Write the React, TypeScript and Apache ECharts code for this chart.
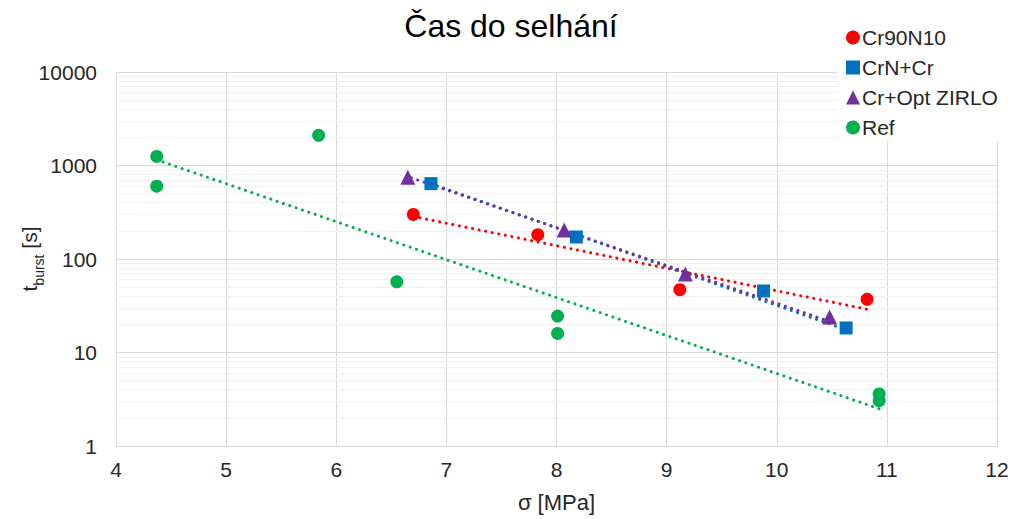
import React, { useEffect, useRef } from "react";
import * as echarts from "echarts";

const title = "Čas do selhání";
const seriesNames = ["Cr90N10", "CrN+Cr", "Cr+Opt ZIRLO", "Ref"];
const colors = ["#FF0000", "#0070C0", "#7030A0", "#00B050"];
const symbols = ["circle", "rect", "triangle", "circle"];

const cr90n10: [number, number][] = [
  [6.7, 300], [7.83, 182], [9.12, 47], [10.82, 37],
];
const crnCr: [number, number][] = [
  [6.86, 640], [8.18, 172], [9.88, 45.5], [10.63, 18.3],
];
const crOptZirlo: [number, number][] = [
  [6.65, 750], [8.07, 204], [9.17, 69], [10.48, 24],
];
const ref: [number, number][] = [
  [4.37, 1250], [4.37, 600], [5.84, 2100], [6.55, 57], [8.01, 24.5], [8.01, 16], [10.93, 3.6], [10.93, 3.05],
];

// trendline endpoints
const trendCr90n10: [number, number][] = [[6.7, 285], [10.82, 29]];
const trendCrnCr: [number, number][] = [[6.86, 640], [10.63, 17.5]];
const trendCrOptZirlo: [number, number][] = [[6.65, 760], [10.48, 21.5]];
const trendRef: [number, number][] = [[4.37, 1150], [10.93, 2.5]];

const xTicks = { min: 4, max: 12, interval: 1 };
const yTicks = { min: 1, max: 10000 };
const minorGridValues = [
  2, 3, 4, 5, 6, 7, 8, 9,
  20, 30, 40, 50, 60, 70, 80, 90,
  200, 300, 400, 500, 600, 700, 800, 900,
  2000, 3000, 4000, 5000, 6000, 7000, 8000, 9000,
];

const FONT = "Liberation Sans, Arial, sans-serif";
const TEXT = "#262626";

export default function App() {
  const ref0 = useRef<HTMLDivElement>(null);
  useEffect(() => {
    const chart = echarts.init(ref0.current!, null, { renderer: "svg" });
    const scatterData = [cr90n10, crnCr, crOptZirlo, ref];
    const trends = [trendCr90n10, trendCrnCr, trendCrOptZirlo, trendRef];
    const series: any[] = [];
    series.push({
      type: "line",
      data: [],
      silent: true,
      z: 1,
      markLine: {
        silent: true,
        z: 1,
        symbol: "none",
        label: { show: false },
        emphasis: { disabled: true },
        lineStyle: { color: "#F0F0F0", width: 1, type: "solid" },
        data: minorGridValues.map((v) => ({ yAxis: v })),
      },
    });
    trends.forEach((t, i) => {
      series.push({
        type: "line",
        data: t,
        symbol: "none",
        silent: true,
        z: 3,
        lineStyle: {
          color: colors[i],
          width: 3,
          type: [0.1, 6.6],
          cap: "round",
          dashOffset: i === 2 ? 3.3 : 0,
        },
      });
    });
    scatterData.forEach((d, i) => {
      series.push({
        name: seriesNames[i],
        type: "scatter",
        data: d,
        symbol: symbols[i],
        symbolSize: symbols[i] === "triangle" ? 15 : 13,
        itemStyle: { color: colors[i], opacity: 1 },
        z: 5,
      });
    });
    chart.setOption({
      animation: false,
      backgroundColor: "#ffffff",
      title: {
        text: title,
        left: 506,
        textAlign: "center",
        top: 5,
        textStyle: { fontFamily: FONT, fontSize: 32, fontWeight: "normal", color: "#000" },
      },
      legend: {
        orient: "vertical",
        left: 837,
        top: 21,
        z: 10,
        data: seriesNames.map((n, i) => ({ name: n, icon: symbols[i] })),
        itemWidth: 14,
        itemHeight: 14,
        itemGap: 9,
        padding: [6, 20, 3, 9],
        backgroundColor: "#ffffff",
        textStyle: { fontFamily: FONT, fontSize: 21, color: TEXT, padding: [0, 0, 0, -3] },
      },
      grid: { left: 116, right: 18, top: 72, bottom: 73, containLabel: false, outerBoundsMode: "none" },
      xAxis: {
        type: "value",
        min: xTicks.min,
        max: xTicks.max,
        interval: xTicks.interval,
        name: "σ [MPa]",
        nameLocation: "middle",
        nameGap: 45,
        nameMoveOverlap: false,
        nameTextStyle: { fontFamily: FONT, fontSize: 22, color: TEXT },
        axisLine: { show: true, lineStyle: { color: "#D9D9D9", width: 1 } },
        axisTick: { show: false },
        axisLabel: { fontFamily: FONT, fontSize: 21, color: TEXT, margin: 13 },
        splitLine: { show: true, lineStyle: { color: "#D9D9D9", width: 1 } },
      },
      yAxis: {
        type: "log",
        logBase: 10,
        min: yTicks.min,
        max: yTicks.max,
        name: "{a|t}{b|burst}{a| [s]}",
        nameLocation: "middle",
        nameGap: 76,
        nameRotate: 90,
        nameMoveOverlap: false,
        nameTextStyle: {
          rich: {
            a: { fontFamily: FONT, fontSize: 21, color: TEXT, lineHeight: 26, verticalAlign: "bottom" },
            b: { fontFamily: FONT, fontSize: 14, color: TEXT, lineHeight: 26, verticalAlign: "bottom", padding: [0, 0, -6, 0] },
          },
        },
        axisLine: { show: true, lineStyle: { color: "#D9D9D9", width: 1 } },
        axisTick: { show: false },
        axisLabel: { fontFamily: FONT, fontSize: 21, color: TEXT, margin: 19, formatter: (v: number) => String(v) },
        splitLine: { show: true, lineStyle: { color: "#D9D9D9", width: 1 } },
      },
      series,
    });
    return () => chart.dispose();
  }, []);
  return (
    <div
      ref={ref0}
      style={{ position: "fixed", left: 0, top: 0, width: 1015, height: 519, background: "#fff" }}
    />
  );
}
